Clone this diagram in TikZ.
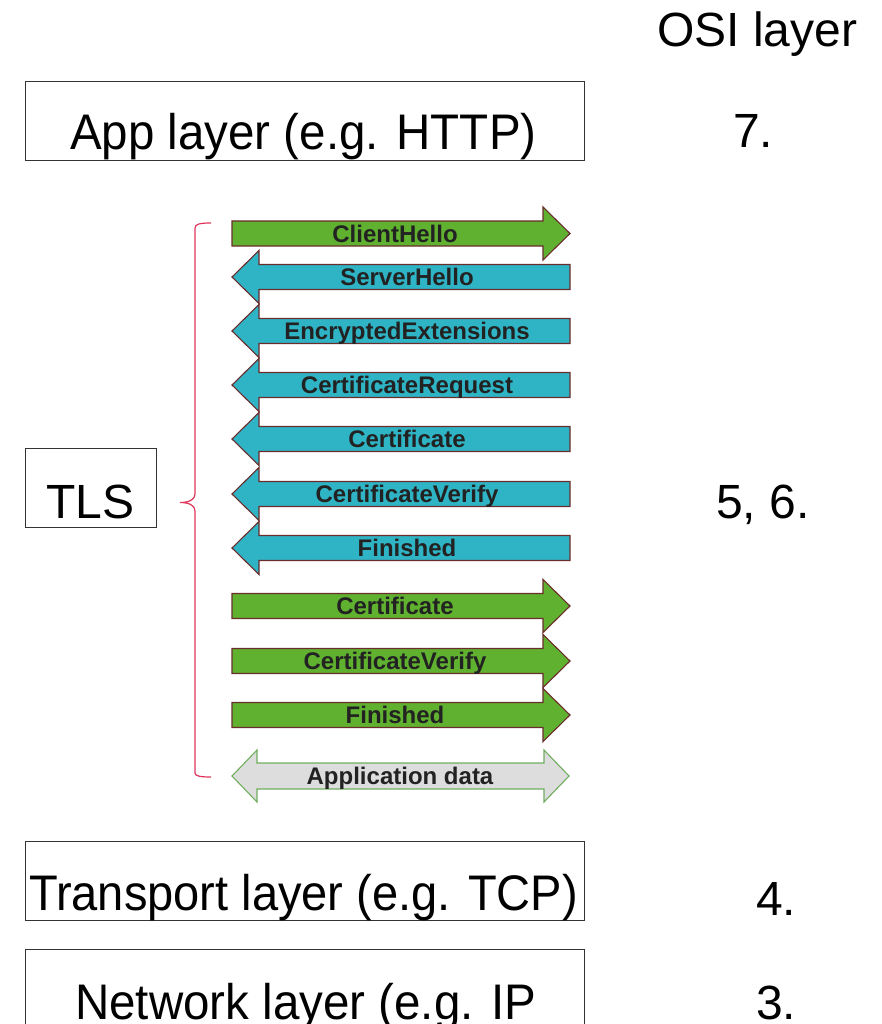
\documentclass[tikz,border=0pt]{standalone}
\usepackage{fontspec}
\setmainfont{Liberation Sans}
\definecolor{msggreen}{HTML}{60B130}
\definecolor{msgcyan}{HTML}{2FB4C5}
\definecolor{msgedge}{HTML}{6B2C2C}
\definecolor{msgink}{HTML}{222222}
\definecolor{datafill}{HTML}{DDDDDD}
\definecolor{dataedge}{HTML}{6FAE5F}
\definecolor{bracered}{HTML}{E0355C}
\definecolor{boxedge}{HTML}{333333}

\tikzset{
  layerbox/.style={draw=boxedge, line width=1.3pt},
  bigtext/.style={inner sep=0pt, anchor=base west, font=\fontsize{50}{58}\selectfont, xscale=0.95},
  ositext/.style={inner sep=0pt, anchor=base west, font=\fontsize{48}{56}\selectfont},
  msgline/.style={draw=msgedge, line width=1.1pt, line join=miter},
  msgtext/.style={inner sep=0pt, anchor=base, text=msgink, font=\fontsize{24}{28}\selectfont\bfseries},
  bracestyle/.style={draw=bracered, line width=1.2pt}
}

% arrow pointing right: name, centre y, fill, label
\newcommand\rightmsg[4]{%
  \draw[msgline, fill=#3] (232,#2-12.5) -- (543,#2-12.5) -- (543,#2-26.5)
    -- (570,#2) -- (543,#2+26.5) -- (543,#2+12.5) -- (232,#2+12.5) -- cycle;
  \node[msgtext] (#1) at (395,#2+8.5) {#4};}
% arrow pointing left: name, centre y, fill, label
\newcommand\leftmsg[4]{%
  \draw[msgline, fill=#3] (570,#2-12.5) -- (259,#2-12.5) -- (259,#2-26.5)
    -- (232,#2) -- (259,#2+26.5) -- (259,#2+12.5) -- (570,#2+12.5) -- cycle;
  \node[msgtext] (#1) at (407,#2+8.5) {#4};}

\begin{document}
\begin{tikzpicture}[x=1pt,y=-1pt]
\useasboundingbox (0,0) rectangle (881,1024);

% column heading
\node[ositext] (osi) at (657,47) {OSI layer};

% protocol layers
\node[layerbox, minimum width=559pt, minimum height=79pt, anchor=north west] (appbox) at (25,81) {};
\node[bigtext] (apptext) at (70,150) {App layer (e.g. HTTP)};
\node[ositext] (l7) at (733,148) {7.};

\node[layerbox, minimum width=131pt, minimum height=79pt, anchor=north west] (tlsbox) at (25,448) {};
\node[ositext] (tlstext) at (46,518) {TLS};
\node[ositext] (l56) at (716,518) {5, 6.};

\node[layerbox, minimum width=559pt, minimum height=79pt, anchor=north west] (tcpbox) at (25,841) {};
\node[bigtext, xscale=0.99] (tcptext) at (29,910) {Transport layer (e.g. TCP)};
\node[ositext] (l4) at (756,915) {4.};

\node[layerbox, minimum width=559pt, minimum height=100pt, anchor=north west] (ipbox) at (25,949) {};
\node[bigtext] (iptext) at (75,1019) {Network layer (e.g. IP};
\node[ositext] (l3) at (756,1019) {3.};

% brace grouping the handshake
\coordinate (bracetip) at (180,502.5);
\draw[bracestyle] (211,223) .. controls (200,223) and (195,224) .. (195,228)
  -- (195,494) .. controls (195,499) and (190,502.5) .. (bracetip)
  .. controls (190,502.5) and (195,506) .. (195,511)
  -- (195,773) .. controls (195,776) and (200,777) .. (211,777);

% handshake messages
\rightmsg{m1}{233.5}{msggreen}{ClientHello}
\leftmsg{m2}{277}{msgcyan}{ServerHello}
\leftmsg{m3}{331}{msgcyan}{EncryptedExtensions}
\leftmsg{m4}{385}{msgcyan}{CertificateRequest}
\leftmsg{m5}{439}{msgcyan}{Certificate}
\leftmsg{m6}{494}{msgcyan}{CertificateVerify}
\leftmsg{m7}{548}{msgcyan}{Finished}
\rightmsg{m8}{606}{msggreen}{Certificate}
\rightmsg{m9}{661}{msggreen}{CertificateVerify}
\rightmsg{m10}{715}{msggreen}{Finished}

% application data, both directions
\draw[draw=dataedge, line width=1.1pt, fill=datafill]
  (232,776) -- (257,750) -- (257,763) -- (544,763) -- (544,750) -- (569,776)
  -- (544,802) -- (544,789) -- (257,789) -- (257,802) -- cycle;
\node[msgtext] (m11) at (400,784.5) {Application data};
\end{tikzpicture}
\end{document}
